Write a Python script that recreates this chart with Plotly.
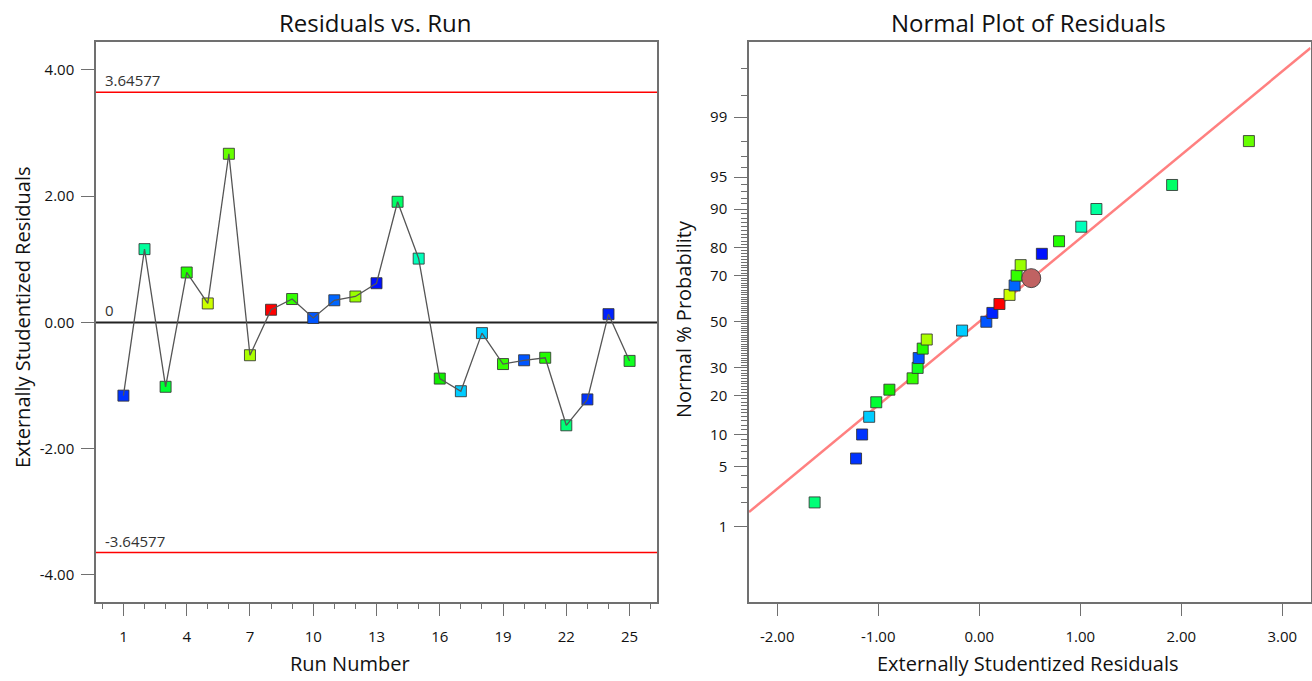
import plotly.graph_objects as go
from statistics import NormalDist

# ---------------- data ----------------
runs = [1, 2, 3, 4, 5, 6, 7, 8, 9, 10, 11, 12, 13, 14, 15, 16, 17, 18, 19, 20, 21, 22, 23, 24, 25]
residuals = [-1.16, 1.16, -1.02, 0.79, 0.30, 2.67, -0.52, 0.20, 0.37, 0.07, 0.35, 0.41, 0.62,
             1.91, 1.01, -0.89, -1.09, -0.17, -0.66, -0.60, -0.56, -1.63, -1.22, 0.13, -0.61]
point_colors = ["#0033ff", "#00ff9c", "#00ff33", "#22ff00", "#ccff00", "#66ff00", "#aaff00",
                "#ff0000", "#33ff00", "#0055ff", "#0066ff", "#99ff00", "#0011ff", "#00ff66",
                "#00ffbb", "#11ee00", "#00ccff", "#00ccff", "#33ff00", "#0055ff", "#22ff00",
                "#00ff77", "#0033ff", "#0022ff", "#11ff22"]
limit_value = 3.64577
normal_pct = [2, 6, 10, 14, 18, 22, 26, 30, 34, 38, 42, 46, 50, 54, 58, 62, 66, 70, 74, 78,
              82, 86, 90, 94, 98]
fit_mean = 0.0
fit_sd = 1.054
highlight_x = [0.515]
highlight_pct = [69.0]

left_xticks = [1, 4, 7, 10, 13, 16, 19, 22, 25]
left_yticks = [-4, -2, 0, 2, 4]
left_yticktext = ["-4.00", "-2.00", "0.00", "2.00", "4.00"]
right_xticks = [-2, -1, 0, 1, 2, 3]
right_xticktext = ["-2.00", "-1.00", "0.00", "1.00", "2.00", "3.00"]
prob_major = [1, 5, 10, 20, 30, 50, 70, 80, 90, 95, 99]
prob_minor = [p for p in range(2, 99) if p not in prob_major] + [99.5, 99.8]

# ---------------- helpers ----------------
nd = NormalDist()
def zq(p):
    return nd.inv_cdf(p / 100.0)

W, H = 1312, 681
def px(x):
    return x / W
def py(y):
    return 1 - y / H

FONT = "Open Sans"
AX = "#707070"

left_xrange = [-0.3, 26.3]
left_yrange = [-4.42, 4.44]
right_xrange = [-2.28, 3.28]
right_yrange = [-3.18, 3.18]

fig = go.Figure()

# left: markers then connecting line on top
fig.add_trace(go.Scatter(
    x=runs, y=residuals, mode="markers", xaxis="x", yaxis="y", showlegend=False,
    marker=dict(symbol="square", size=11, color=point_colors,
                line=dict(color="rgba(50,50,50,0.85)", width=1))))
fig.add_trace(go.Scatter(
    x=runs, y=residuals, mode="lines", xaxis="x", yaxis="y", showlegend=False,
    line=dict(color="#555555", width=1.3), hoverinfo="skip"))

# right: fit line, points, highlight
order = sorted(range(len(residuals)), key=lambda i: residuals[i])
sorted_res = [residuals[i] for i in order]
sorted_col = [point_colors[i] for i in order]
fit_x = right_xrange
fit_z = [(v - fit_mean) / fit_sd for v in fit_x]
fig.add_trace(go.Scatter(
    x=fit_x, y=fit_z, mode="lines", xaxis="x2", yaxis="y2", showlegend=False,
    line=dict(color="#ff8080", width=2.5), hoverinfo="skip"))
fig.add_trace(go.Scatter(
    x=sorted_res, y=[zq(p) for p in normal_pct], mode="markers", xaxis="x2", yaxis="y2",
    showlegend=False,
    marker=dict(symbol="square", size=11, color=sorted_col,
                line=dict(color="rgba(50,50,50,0.85)", width=1))))
fig.add_trace(go.Scatter(
    x=highlight_x, y=[zq(p) for p in highlight_pct], mode="markers", xaxis="x2", yaxis="y2",
    showlegend=False,
    marker=dict(symbol="circle", size=19, color="#c06262",
                line=dict(color="rgba(60,60,60,0.9)", width=1))))

# reference lines (left)
shapes = []
for yv, col, wd in [(limit_value, "#ff0000", 1.5), (-limit_value, "#ff0000", 1.5), (0, "#222222", 2)]:
    shapes.append(dict(type="line", xref="x domain", yref="y", x0=0, x1=1, y0=yv, y1=yv,
                       line=dict(color=col, width=wd), layer="below"))

tickfont = dict(family=FONT, size=15, color="#111111")
common = dict(showline=True, linecolor=AX, linewidth=1.5, mirror=True, showgrid=False,
              zeroline=False, ticks="outside", ticklen=13, tickwidth=1.3, tickcolor=AX,
              tickfont=tickfont)

fig.update_layout(
    width=W, height=H,
    margin=dict(l=0, r=0, t=0, b=0),
    paper_bgcolor="white", plot_bgcolor="white",
    shapes=shapes,
    xaxis=dict(domain=[px(96), px(657)], range=left_xrange, anchor="y",
               tickmode="array", tickvals=left_xticks, ticklabelstandoff=8,
               minor=dict(tickmode="linear", tick0=1, dtick=1, ticks="outside", ticklen=6,
                          tickcolor=AX, tickwidth=1.3),
               **common),
    yaxis=dict(domain=[py(601.5), py(42)], range=left_yrange, anchor="x",
               tickmode="array", tickvals=left_yticks, ticktext=left_yticktext,
               ticklabelstandoff=4, **common),
    xaxis2=dict(domain=[px(749), px(1310.5)], range=right_xrange, anchor="y2",
                tickmode="array", tickvals=right_xticks, ticktext=right_xticktext,
                ticklabelstandoff=8, **common),
    yaxis2=dict(domain=[py(601.5), py(42)], range=right_yrange, anchor="x2",
                tickmode="array", tickvals=[zq(p) for p in prob_major],
                ticktext=[str(p) for p in prob_major], ticklabelstandoff=4,
                minor=dict(tickmode="array", tickvals=[zq(p) for p in prob_minor],
                           ticks="outside", ticklen=6, tickcolor=AX, tickwidth=1.3),
                **common),
)

ann = []
def add_text(text, x, y, size, angle=0, xanchor="center", yanchor="middle", color="#111111",
             xref="paper", yref="paper"):
    ann.append(dict(text=text, x=x, y=y, xref=xref, yref=yref, showarrow=False,
                    textangle=angle, xanchor=xanchor, yanchor=yanchor,
                    font=dict(family=FONT, size=size, color=color)))

add_text("Residuals vs. Run", px(375), py(22), 24)
add_text("Normal Plot of Residuals", px(1028), py(22), 24)
add_text("Run Number", px(350), py(663), 20)
add_text("Externally Studentized Residuals", px(1027), py(663), 20)
add_text("Externally Studentized Residuals", px(22), py(318), 20, angle=-90)
add_text("Normal % Probability", px(683), py(319), 20, angle=-90)
add_text("3.64577", 0.012, limit_value, 15, xanchor="left", yanchor="bottom",
         color="#333333", xref="x domain", yref="y")
add_text("-3.64577", 0.012, -limit_value, 15, xanchor="left", yanchor="bottom",
         color="#333333", xref="x domain", yref="y")
add_text("0", 0.012, 0, 15, xanchor="left", yanchor="bottom",
         color="#333333", xref="x domain", yref="y")
fig.update_layout(annotations=ann)

fig.write_html("out.html")
